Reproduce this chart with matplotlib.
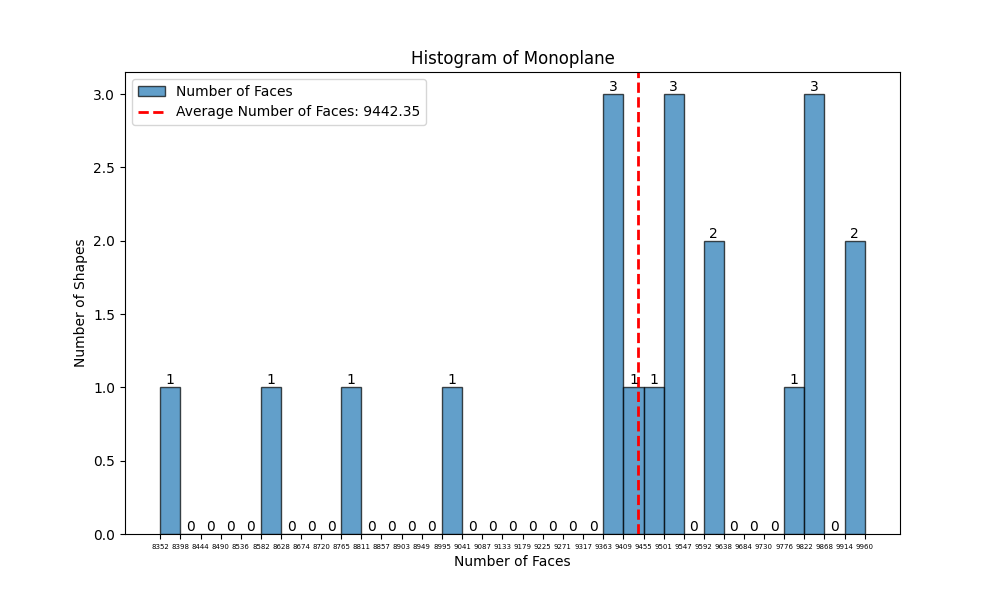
import matplotlib
matplotlib.use("Agg")
import matplotlib.pyplot as plt

# Bin edges (as labelled on the x axis) and the counts per bin
bin_edges = [8352, 8398, 8444, 8490, 8536, 8582, 8628, 8674, 8720, 8765, 8811, 8857,
             8903, 8949, 8995, 9041, 9087, 9133, 9179, 9225, 9271, 9317, 9363, 9409,
             9455, 9501, 9547, 9592, 9638, 9684, 9730, 9776, 9822, 9868, 9914, 9960]
counts = [1, 0, 0, 0, 0, 1, 0, 0, 0, 1, 0, 0, 0, 0, 1, 0, 0, 0, 0, 0, 0, 0,
          3, 1, 1, 3, 0, 2, 0, 0, 0, 1, 3, 0, 2]
average_faces = 9442.35

fig, ax = plt.subplots(figsize=(10, 6))
n, bins, patches = ax.hist(bin_edges[:-1], bins=bin_edges, weights=counts,
                           edgecolor="black", alpha=0.7, label="Number of Faces")
ax.bar_label(patches, labels=[str(int(c)) for c in n], fontsize=10)
ax.axvline(average_faces, color="red", linestyle="--", linewidth=2,
           label=f"Average Number of Faces: {average_faces:.2f}")

ax.set_xticks(bin_edges)
ax.set_xticklabels([str(e) for e in bin_edges], fontsize=5)
ax.set_title("Histogram of Monoplane")
ax.set_xlabel("Number of Faces")
ax.set_ylabel("Number of Shapes")
ax.legend(loc="upper left")

plt.savefig("out.png", dpi=100)
